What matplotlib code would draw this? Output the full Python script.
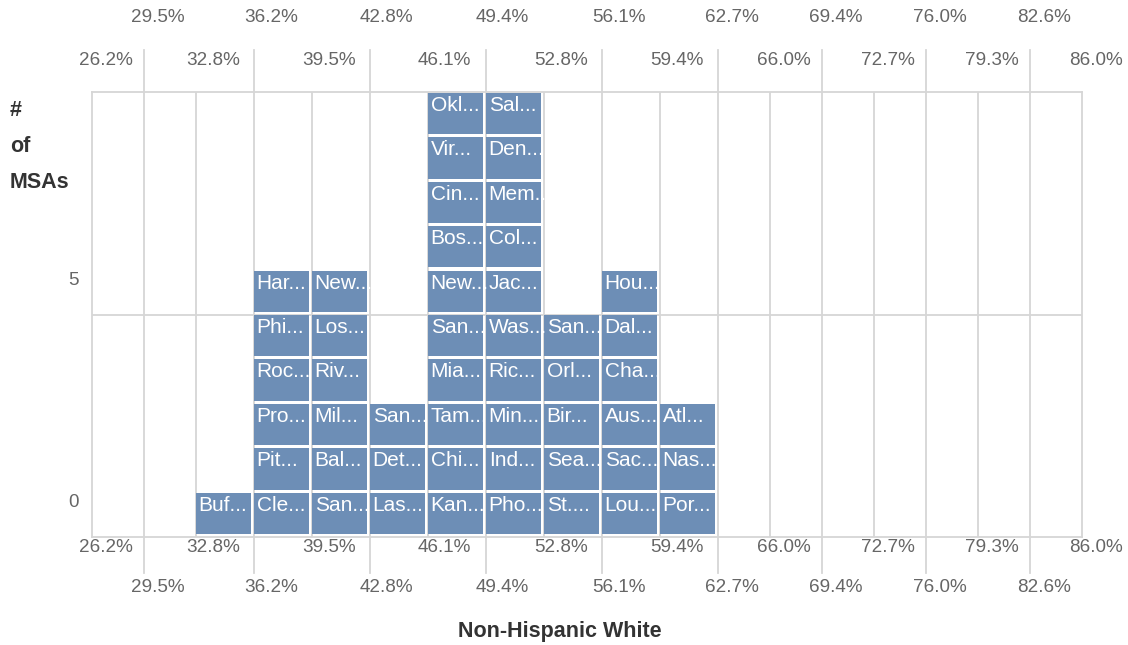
import numpy as np
import matplotlib
matplotlib.use("Agg")
import matplotlib.pyplot as plt
from matplotlib import transforms as mtrans

plt.rcParams['font.family'] = ['Liberation Sans', 'DejaVu Sans']

# ---------------- data ----------------
bin_labels = ['26.2%', '29.5%', '32.8%', '36.2%', '39.5%', '42.8%', '46.1%',
              '49.4%', '52.8%', '56.1%', '59.4%', '62.7%', '66.0%', '69.4%',
              '72.7%', '76.0%', '79.3%', '82.6%', '86.0%']

msa_32_8 = ['Buf...']
msa_36_2 = ['Cle...', 'Pit...', 'Pro...', 'Roc...', 'Phi...', 'Har...']
msa_39_5 = ['San...', 'Bal...', 'Mil...', 'Riv...', 'Los...', 'New...']
msa_42_8 = ['Las...', 'Det...', 'San...']
msa_46_1 = ['Kan...', 'Chi...', 'Tam...', 'Mia...', 'San...', 'New...',
            'Bos...', 'Cin...', 'Vir...', 'Okl...']
msa_49_4 = ['Pho...', 'Ind...', 'Min...', 'Ric...', 'Was...', 'Jac...',
            'Col...', 'Mem...', 'Den...', 'Sal...']
msa_52_8 = ['St....', 'Sea...', 'Bir...', 'Orl...', 'San...']
msa_56_1 = ['Lou...', 'Sac...', 'Aus...', 'Cha...', 'Dal...', 'Hou...']
msa_59_4 = ['Por...', 'Nas...', 'Atl...']

msa_by_bin = {
    '32.8%': msa_32_8, '36.2%': msa_36_2, '39.5%': msa_39_5,
    '42.8%': msa_42_8, '46.1%': msa_46_1, '49.4%': msa_49_4,
    '52.8%': msa_52_8, '56.1%': msa_56_1, '59.4%': msa_59_4,
}
y_ticks = [0, 5]

# ---------------- styling ----------------
BAR = '#6d8eb6'
GRID = '#d6d6d6'
TICK = '#666666'
TITLE = '#333333'

n_cols = len(bin_labels) - 1
occupied = [len(msa_by_bin.get(l, [])) > 0 for l in bin_labels[:n_cols]]
widths = [58.0 if o else 52.0 for o in occupied]
# extended column edges (one phantom column each side) for the scale
ext_w = [52.0] + widths + [52.0, 52.0]
idx_ext = np.arange(-1, n_cols + 3, dtype=float)
pos_ext = np.concatenate([[0.0], np.cumsum(ext_w)])


def fwd(x):
    return np.interp(x, idx_ext, pos_ext)


def inv(p):
    return np.interp(p, pos_ext, idx_ext)


W, H = 1128, 645
fig = plt.figure(figsize=(W / 100, H / 100), dpi=100)
L, R, T, B = 91.7, 1081.7, 92.3, 536.7
ax = fig.add_axes([L / W, 1 - B / H, (R - L) / W, (B - T) / H])
ax.set_xscale('function', functions=(fwd, inv))
ax.set_xlim(0, n_cols)
ax.set_ylim(0, 10)
ax.set_xticks([])
ax.set_yticks([])
ax.minorticks_off()
for s in ax.spines.values():
    s.set_color(GRID)
    s.set_linewidth(1.3)

# grid lines
for b in range(1, n_cols):
    if b % 2 == 1:
        ax.axvline(b, ymin=-0.082, ymax=1.095, color=GRID, lw=1.3,
                   clip_on=False, zorder=1)
    else:
        ax.axvline(b, color=GRID, lw=1.3, zorder=1)
ax.axhline(5, color=GRID, lw=1.3, zorder=1)

# stacked cells
for lab, names in msa_by_bin.items():
    c = bin_labels.index(lab)
    for r, name in enumerate(names):
        bars = ax.bar(c, 0.93, width=0.95, bottom=r + 0.06, align='edge',
                      color=BAR, edgecolor='none', zorder=2)
        rect = bars.patches[0]
        tr = mtrans.offset_copy(ax.transData, fig=fig, x=3, y=-3,
                                units='dots')
        t = ax.text(c, r + 0.99, name, transform=tr, ha='left', va='top',
                    color='white', fontsize=15, zorder=3)
        t.set_clip_path(rect)

# x header labels (top and bottom)
bt = mtrans.blended_transform_factory(ax.transData, fig.transFigure)
bt = mtrans.offset_copy(bt, fig=fig, x=-12, y=0, units='dots')
for i, lab in enumerate(bin_labels):
    if i % 2 == 0:
        ys = (60.7, 548)
    else:
        ys = (18, 588)
    for ypx in ys:
        ax.text(i + 0.5, 1 - ypx / H, lab, transform=bt, ha='center',
                va='center', color=TICK, fontsize=13.6, clip_on=False)

# y tick labels
yt = mtrans.blended_transform_factory(fig.transFigure, ax.transData)
yt = mtrans.offset_copy(yt, fig=fig, x=0, y=12, units='dots')
for v in y_ticks:
    ax.text(79 / W, v + 0.5, str(v), transform=yt, ha='right', va='center',
            color=TICK, fontsize=13.6, clip_on=False)

# axis titles
for txt, ypx in [('#', 110), ('of', 146), ('MSAs', 183)]:
    fig.text(10 / W, 1 - ypx / H, txt, ha='left', va='center',
             fontsize=15.5, fontweight='bold', color=TITLE)
fig.text(560 / W, 1 - 632 / H, 'Non-Hispanic White', ha='center',
         va='center', fontsize=15.5, fontweight='bold', color=TITLE)

fig.savefig('out.png', dpi=100, facecolor='white')
